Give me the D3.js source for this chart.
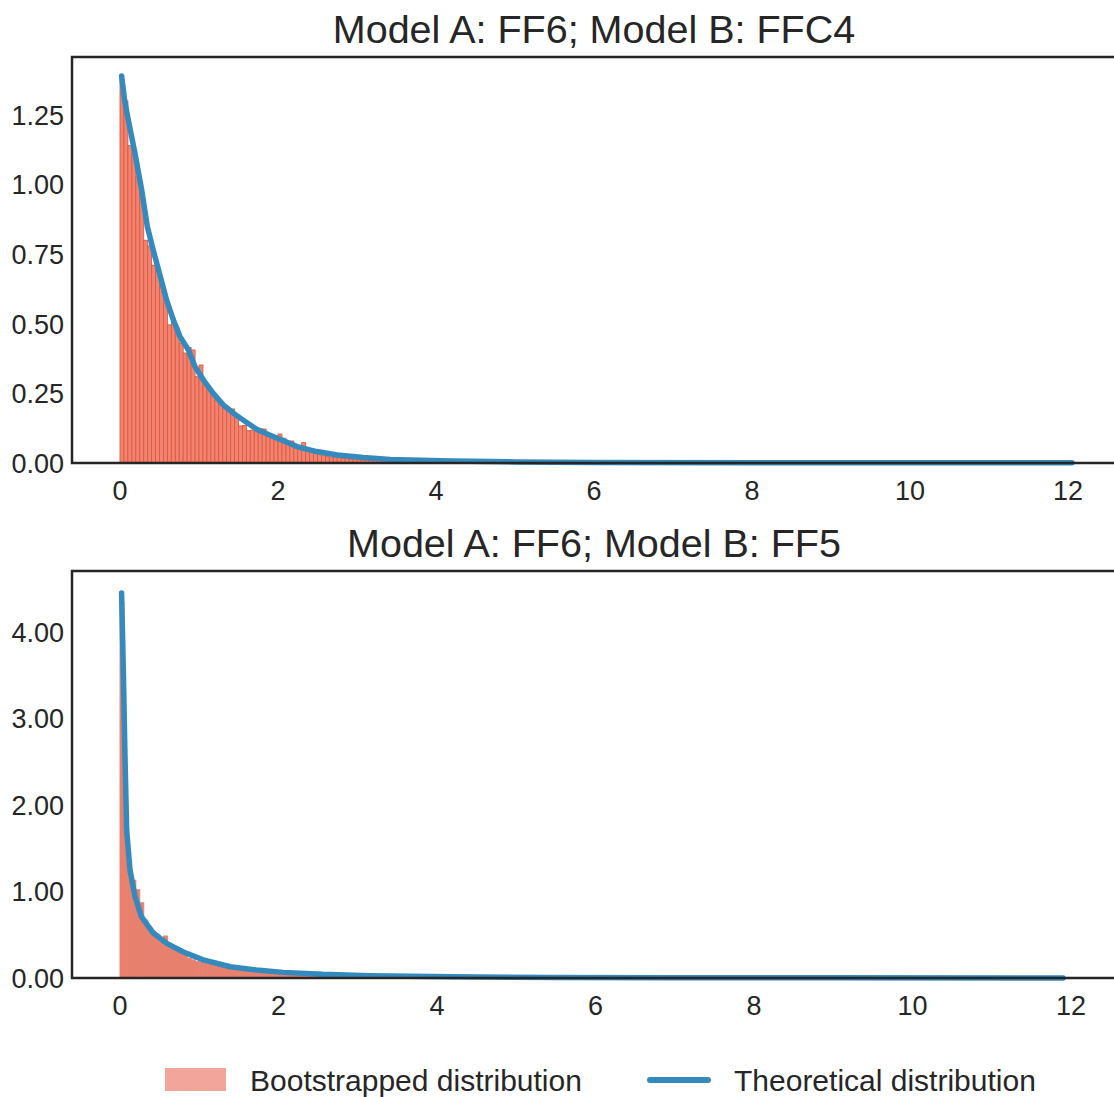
<!DOCTYPE html>
<html>
<head>
<meta charset="utf-8">
<script src="https://cdn.jsdelivr.net/npm/d3@7"></script>
<style>
  body { margin: 0; background: #fff; }
  text { font-family: "Liberation Sans", Arial, Helvetica, sans-serif; fill: #262626; }
</style>
</head>
<body>
<div id="chart"></div>
<script>
// histogram bin width for both panels
var binWidth = 0.05;

// top panel: FF6 vs FFC4
var topTitle = "Model A: FF6; Model B: FFC4";
var topHist = [1.38, 1.30, 1.14, 1.11, 1.03, 0.975, 0.80, 0.78, 0.71, 0.71,
  0.654, 0.575, 0.496, 0.52, 0.485, 0.43, 0.395, 0.415, 0.406, 0.31,
  0.352, 0.28, 0.27, 0.25, 0.226, 0.215, 0.20, 0.194, 0.194, 0.169,
  0.133, 0.135, 0.116, 0.118, 0.112, 0.122, 0.122, 0.097, 0.097, 0.094,
  0.104, 0.089, 0.071, 0.079, 0.053, 0.051, 0.073, 0.044, 0.041, 0.035,
  0.033, 0.030, 0.023, 0.021, 0.021, 0.020, 0.016, 0.015, 0.014, 0.014,
  0.011, 0.011, 0.010, 0.009, 0.008, 0.009, 0.007, 0.006, 0.005, 0.005,
  0.004, 0.004, 0.003, 0.003, 0.002, 0.002, 0.002, 0.001, 0.001, 0.001,
  0.012];
var topLineX = [0.02, 0.06, 0.105, 0.19, 0.275, 0.346, 0.42, 0.50, 0.59, 0.675,
  0.76, 0.866, 0.95, 1.056, 1.18, 1.31, 1.44, 1.56, 1.73, 1.90,
  2.07, 2.24, 2.49, 2.75, 3.08, 3.42, 3.68, 4.2, 5.0, 6.0, 8.0, 10.0, 12.05];
var topLineY = [1.39, 1.30, 1.232, 1.112, 0.98, 0.849, 0.765, 0.681, 0.585, 0.514,
  0.454, 0.406, 0.346, 0.298, 0.25, 0.208, 0.178, 0.154, 0.121, 0.10,
  0.080, 0.059, 0.041, 0.029, 0.020, 0.013, 0.011, 0.007, 0.004, 0.002, 0.001, 0.0007, 0.0005];
var topYTicks = [0, 0.25, 0.5, 0.75, 1.0, 1.25];

// bottom panel: FF6 vs FF5
var bottomTitle = "Model A: FF6; Model B: FF5";
var bottomHist = [4.35, 1.75, 1.21, 1.13, 1.02, 0.87, 0.67, 0.59, 0.54, 0.50,
  0.44, 0.486, 0.40, 0.36, 0.34, 0.30, 0.28, 0.23, 0.21, 0.19,
  0.18, 0.17, 0.16, 0.15, 0.14, 0.13, 0.125, 0.12, 0.11, 0.105,
  0.10, 0.095, 0.09, 0.085, 0.08, 0.076, 0.072, 0.068, 0.065, 0.062,
  0.058, 0.055, 0.052, 0.05, 0.048, 0.046, 0.044, 0.042, 0.04, 0.038,
  0.036, 0.035, 0.033, 0.032, 0.03, 0.029, 0.028, 0.027, 0.026, 0.025,
  0.024, 0.023, 0.022, 0.021, 0.02, 0.019, 0.018, 0.018, 0.017, 0.016,
  0.016, 0.015, 0.014, 0.014, 0.013, 0.013, 0.012, 0.012, 0.011, 0.011,
  0.010, 0.010, 0.009, 0.009, 0.008, 0.008, 0.007, 0.007, 0.006, 0.006,
  0.005, 0.005, 0.005, 0.004, 0.004, 0.004, 0.003, 0.003, 0.003, 0.002];
var bottomLineX = [0.02, 0.042, 0.063, 0.084, 0.126, 0.19, 0.27, 0.42, 0.59, 0.80,
  1.05, 1.39, 1.72, 2.06, 2.56, 3.15, 3.66, 4.5, 5.5, 7.0, 9.0, 11.9];
var bottomLineY = [4.45, 3.56, 2.56, 1.71, 1.25, 0.94, 0.71, 0.52, 0.40, 0.30,
  0.21, 0.13, 0.092, 0.065, 0.042, 0.027, 0.02, 0.012, 0.007, 0.004, 0.002, 0.001];
var bottomYTicks = [0, 1, 2, 3, 4];

var xTicks = [0, 2, 4, 6, 8, 10, 12];

var svgWidth = 1114;
var svgHeight = 1097;

var svg = d3.select("#chart")
  .append("svg")
  .attr("width", svgWidth)
  .attr("height", svgHeight);

var lineColor = "#348abd";

function drawPanel(opt) {
  var x = d3.scaleLinear().domain([0, 12]).range([120, opt.x12]);
  var y = d3.scaleLinear().domain([0, opt.yRef]).range([opt.bottom, opt.yRefPx]);
  var g = svg.append("g");

  // bars
  g.selectAll("rect.bar")
    .data(opt.hist)
    .enter()
    .append("rect")
    .attr("class", "bar")
    .attr("x", (d, i) => x(i * binWidth))
    .attr("width", (d, i) => x((i + 1) * binWidth) - x(i * binWidth))
    .attr("y", d => y(d))
    .attr("height", d => y(0) - y(d))
    .attr("fill", opt.fill)
    .attr("stroke", opt.edge)
    .attr("stroke-width", 0.9);

  // theoretical line
  var pts = opt.lineX.map((v, i) => [v, opt.lineY[i]]);
  g.append("path")
    .datum(pts)
    .attr("fill", "none")
    .attr("stroke", lineColor)
    .attr("stroke-width", 5.5)
    .attr("stroke-linejoin", "round")
    .attr("stroke-linecap", "round")
    .attr("d", d3.line().x(d => x(d[0])).y(d => y(d[1])));

  // spines: left, top, bottom
  g.append("path")
    .attr("d", `M1114,${opt.top}H72V${opt.bottom}H1114`)
    .attr("fill", "none")
    .attr("stroke", "#262626")
    .attr("stroke-width", 2.5);

  // tick labels
  g.selectAll("text.ytick")
    .data(opt.yTicks)
    .enter()
    .append("text")
    .attr("class", "ytick")
    .attr("x", 64)
    .attr("y", d => y(d))
    .attr("dy", "0.36em")
    .attr("text-anchor", "end")
    .style("font-size", "27px")
    .text(d => d3.format(".2f")(d));

  g.selectAll("text.xtick")
    .data(xTicks)
    .enter()
    .append("text")
    .attr("class", "xtick")
    .attr("x", d => x(d))
    .attr("y", opt.bottom + 27)
    .attr("dy", "0.36em")
    .attr("text-anchor", "middle")
    .style("font-size", "27px")
    .text(d => d);

  g.append("text")
    .attr("x", 594)
    .attr("y", opt.top - 14)
    .attr("text-anchor", "middle")
    .style("font-size", "39.5px")
    .text(opt.title);
}

drawPanel({
  title: topTitle, hist: topHist, lineX: topLineX, lineY: topLineY, yTicks: topYTicks,
  top: 57, bottom: 463, yRef: 1.25, yRefPx: 115, x12: 1068,
  fill: "#ef8571", edge: "#e5563f"
});

drawPanel({
  title: bottomTitle, hist: bottomHist, lineX: bottomLineX, lineY: bottomLineY, yTicks: bottomYTicks,
  top: 571, bottom: 978, yRef: 4, yRefPx: 632, x12: 1071,
  fill: "#e8806e", edge: "#e8806e"
});

// legend
var legend = svg.append("g");
legend.append("rect")
  .attr("x", 165).attr("y", 1068)
  .attr("width", 61).attr("height", 23)
  .attr("fill", "#f2a59a");
legend.append("text")
  .attr("x", 250).attr("y", 1080).attr("dy", "0.36em")
  .style("font-size", "30px")
  .text("Bootstrapped distribution");
legend.append("line")
  .attr("x1", 650).attr("x2", 708)
  .attr("y1", 1080).attr("y2", 1080)
  .attr("stroke", lineColor)
  .attr("stroke-width", 6)
  .attr("stroke-linecap", "round");
legend.append("text")
  .attr("x", 734).attr("y", 1080).attr("dy", "0.36em")
  .style("font-size", "30px")
  .text("Theoretical distribution");
</script>
</body>
</html>
